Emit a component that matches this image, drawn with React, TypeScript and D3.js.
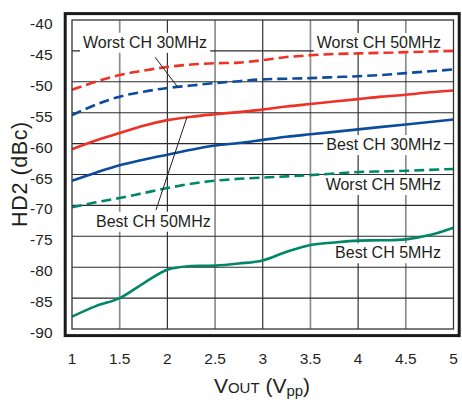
import React from "react";
import * as d3 from "d3";

const xValues = [1, 1.25, 1.5, 1.75, 2, 2.25, 2.5, 2.75, 3, 3.25, 3.5, 3.75, 4, 4.25, 4.5, 4.75, 5];

const worst50 = [-51.3, -50.0, -48.9, -48.2, -47.6, -47.2, -47.0, -46.9, -46.5, -46.0, -45.7, -45.5, -45.4, -45.3, -45.2, -45.1, -45.0];
const worst30 = [-55.4, -53.7, -52.4, -51.6, -51.0, -50.6, -50.2, -49.9, -49.6, -49.5, -49.4, -49.25, -49.1, -48.9, -48.6, -48.3, -48.0];
const best50 = [-60.9, -59.5, -58.3, -57.1, -56.2, -55.65, -55.25, -54.9, -54.5, -54.0, -53.6, -53.2, -52.8, -52.4, -52.1, -51.7, -51.4];
const best30 = [-66.0, -64.7, -63.5, -62.6, -61.8, -61.0, -60.3, -59.9, -59.4, -58.9, -58.5, -58.1, -57.7, -57.3, -56.9, -56.5, -56.1];
const worst5 = [-70.3, -69.5, -68.8, -68.0, -67.2, -66.5, -66.0, -65.7, -65.5, -65.3, -65.1, -64.85, -64.6, -64.5, -64.4, -64.25, -64.1];
const best5 = [-88.0, -86.3, -85.0, -82.6, -80.4, -79.8, -79.75, -79.4, -78.9, -77.5, -76.4, -76.0, -75.7, -75.65, -75.5, -74.8, -73.6];

const xTicks = [1, 1.5, 2, 2.5, 3, 3.5, 4, 4.5, 5];
const xTickLabels = ["1", "1.5", "2", "2.5", "3", "3.5", "4", "4.5", "5"];
const yTicks = [-40, -45, -50, -55, -60, -65, -70, -75, -80, -85, -90];

const RED = "#ee3124";
const BLUE = "#0b4c9c";
const GREEN = "#00876a";
const TEXT = "#231f20";

const series = [
  { name: "Worst CH 50MHz", values: worst50, color: RED, dashed: true },
  { name: "Worst CH 30MHz", values: worst30, color: BLUE, dashed: true },
  { name: "Best CH 50MHz", values: best50, color: RED, dashed: false },
  { name: "Best CH 30MHz", values: best30, color: BLUE, dashed: false },
  { name: "Worst CH 5MHz", values: worst5, color: GREEN, dashed: true },
  { name: "Best CH 5MHz", values: best5, color: GREEN, dashed: false },
];

// annotation labels in data coordinates (x, y = baseline)
const labelTexts = ["Worst CH 30MHz", "Worst CH 50MHz", "Best CH 30MHz", "Worst CH 5MHz", "Best CH 5MHz", "Best CH 50MHz"];
const labelX = [1.115, 4.868, 4.868, 4.868, 4.868, 1.252];
const labelY = [-44.5, -44.55, -61.05, -67.5, -78.55, -73.45];
const labelAnchor = ["start", "end", "end", "end", "end", "start"];

// leader lines in data coords
const leaders = [
  { x1: 1.87, y1: -46.0, x2: 2.11, y2: -50.9 },
  { x1: 1.88, y1: -70.75, x2: 2.205, y2: -55.75 },
];

const FONT = "'Liberation Sans', Arial, Helvetica, sans-serif";

function measure(text: string, size: number): number {
  const c = document.createElement("canvas");
  const ctx = c.getContext("2d");
  if (!ctx) return text.length * size * 0.55;
  ctx.font = `${size}px ${FONT}`;
  return ctx.measureText(text).width;
}

export default function App() {
  const W = 462;
  const H = 400;
  const x = d3.scaleLinear().domain([1, 5]).range([72, 453.5]);
  const y = d3.scaleLinear().domain([-90, -40]).range([329, 20]);

  const line = d3
    .line<number>()
    .x((_, i) => x(xValues[i]))
    .y((d) => y(d))
    .curve(d3.curveCatmullRom.alpha(0.5));

  const labelSize = 16;

  return (
    <svg width={W} height={H} style={{ position: "absolute", left: 0, top: 0, background: "#fff" }} fontFamily={FONT}>
      <rect x={0} y={0} width={W} height={H} fill="#fff" />
      {/* vertical grid */}
      {xTicks.slice(1, -1).map((t) => {
        const major = Number.isInteger(t);
        return (
          <line
            key={"vx" + t}
            x1={x(t)}
            x2={x(t)}
            y1={y(-40)}
            y2={y(-90)}
            stroke={major ? "#231f20" : "#8c8c8c"}
            strokeWidth={major ? 1.1 : 1.7}
          />
        );
      })}
      {/* horizontal grid */}
      {yTicks.slice(1, -1).map((t) => (
        <line key={"hy" + t} x1={x(1)} x2={x(5)} y1={y(t)} y2={y(t)} stroke="#2a2a2a" strokeWidth={1.1} />
      ))}
      {/* label boxes */}
      {labelTexts.map((t, i) => {
        const w = measure(t, labelSize);
        const ax = x(labelX[i]);
        const left = labelAnchor[i] === "end" ? ax - w : ax;
        const by = y(labelY[i]);
        return <rect key={"lb" + i} x={left - 3} y={by - 15} width={w + 6} height={20} fill="#fff" />;
      })}
      {/* curves */}
      {series.map((s) => (
        <path
          key={s.name}
          d={line(s.values) || ""}
          fill="none"
          stroke={s.color}
          strokeWidth={2.6}
          strokeDasharray={s.dashed ? "10,5" : undefined}
        />
      ))}
      {/* leaders */}
      {leaders.map((l, i) => (
        <line key={"ld" + i} x1={x(l.x1)} y1={y(l.y1)} x2={x(l.x2)} y2={y(l.y2)} stroke={TEXT} strokeWidth={1} />
      ))}
      {/* labels */}
      {labelTexts.map((t, i) => (
        <text key={"lt" + i} x={x(labelX[i])} y={y(labelY[i])} textAnchor={labelAnchor[i] as any} fontSize={labelSize} fill={TEXT}>
          {t}
        </text>
      ))}
      {/* plot border */}
      <rect x={x(1)} y={y(-40)} width={x(5) - x(1)} height={y(-90) - y(-40)} fill="none" stroke="#333" strokeWidth={1.3} />
      {/* outer frame */}
      <rect x={65.2} y={13.6} width={394} height={322} fill="none" stroke="#1a1a1a" strokeWidth={3} />
      {/* y tick labels */}
      {yTicks.map((t) => (
        <text key={"yt" + t} x={52.5} y={y(t) + 9} textAnchor="end" fontSize={15.5} fill={TEXT}>
          {t}
        </text>
      ))}
      {/* x tick labels */}
      {xTicks.map((t, i) => (
        <text key={"xt" + t} x={x(t)} y={364} textAnchor="middle" fontSize={15.5} fill={TEXT}>
          {xTickLabels[i]}
        </text>
      ))}
      {/* y title */}
      <text transform="translate(26.5,174) rotate(-90)" textAnchor="middle" fontSize={21.5} fill={TEXT} letterSpacing={0.6}>
        HD2 (dBc)
      </text>
      {/* x title */}
      <text x={262} y={393} textAnchor="middle" fontSize={21} fill={TEXT}>
        V<tspan fontSize={15}>OUT</tspan> (V<tspan fontSize={15} dy={3}>pp</tspan>
        <tspan dy={-3}>)</tspan>
      </text>
    </svg>
  );
}
